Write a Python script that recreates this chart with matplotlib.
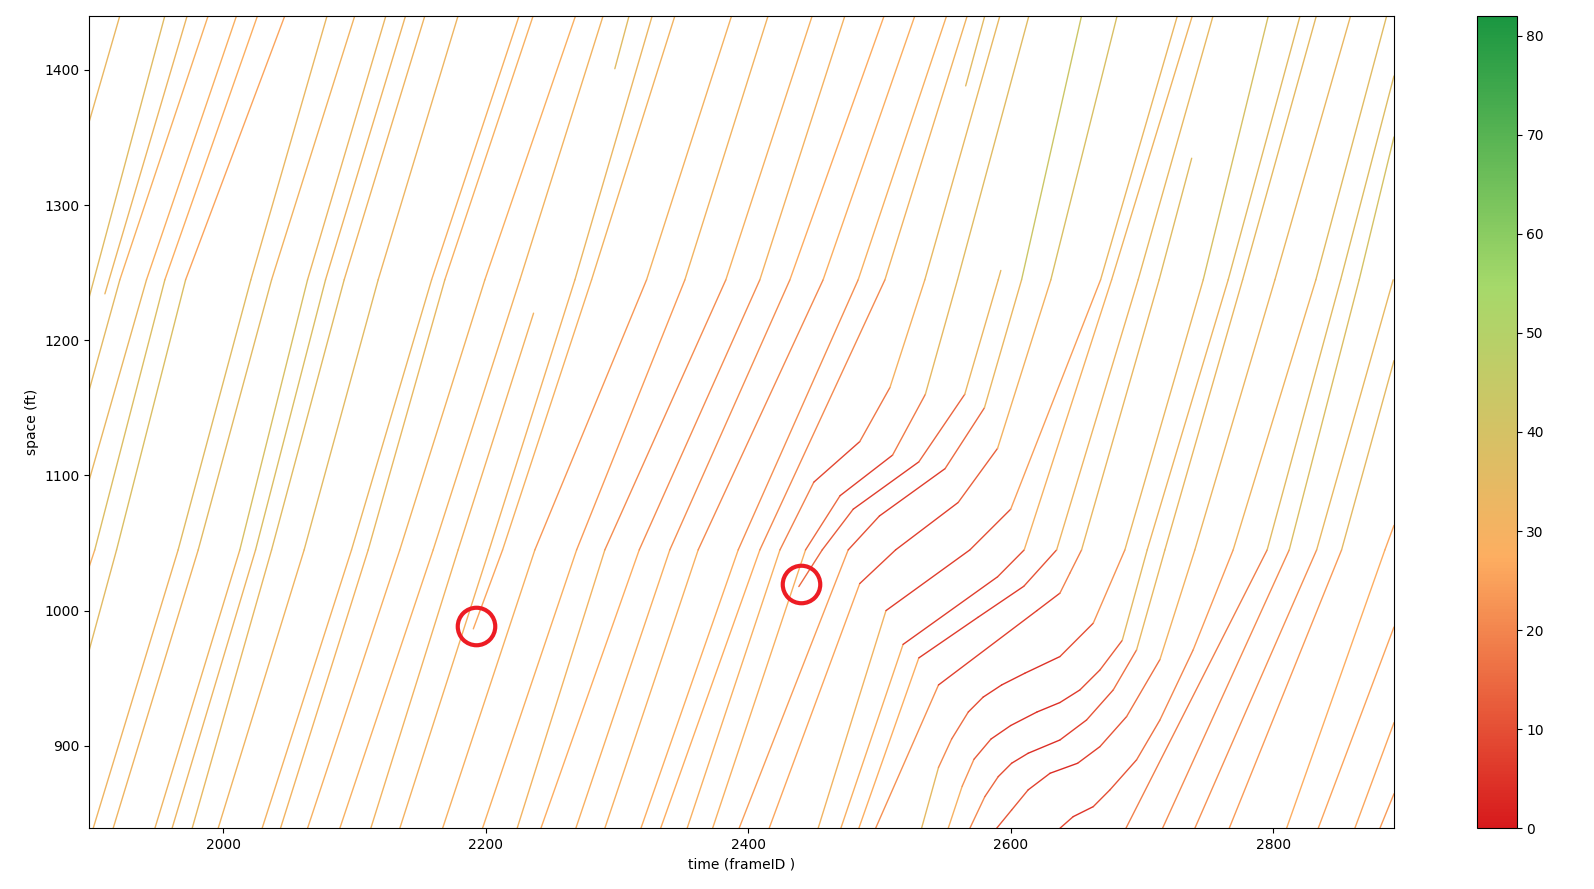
import numpy as np
import matplotlib
matplotlib.use("Agg")
import matplotlib.pyplot as plt
from matplotlib.collections import LineCollection
from matplotlib.colors import LinearSegmentedColormap, Normalize
from matplotlib.cm import ScalarMappable

FPS = 10  # frames per second -> speed in ft/s

# vehicle trajectories, (frameID, space ft) knots
# vehicles entering from the left edge
left_vehicles = [
    [(1898, 1361.8), (1921.3, 1440)],
    [(1898, 1232.0), (1955.6, 1440)],
    [(1909.9, 1234.3), (1972.6, 1440)],
    [(1898, 1163.3), (1921.3, 1244.7), (1988.6, 1440)],
    [(1898, 1096.7), (1941.6, 1244.7), (2010.2, 1440)],
    [(1898, 1032.6), (1902.2, 1044.9), (1955.6, 1244.7), (2026.2, 1440)],
    [(1898, 970.9), (1918.8, 1044.9), (1971.4, 1244.7), (2047.0, 1440)],
]

# rows used for the crossings below
s_rows = [839, 1044.9, 1244.7, 1440]

# free flow vehicles: time at each of s_rows
free_t = [
    [1901.0, 1965.7, 2021.1, 2079.2],
    [1916.2, 1981.0, 2036.9, 2100.3],
    [1948.0, 2012.7, 2064.3, 2124.0],
    [1961.1, 2024.7, 2078.0, 2139.0],
    [1976.4, 2036.9, 2092.2, 2153.7],
    [1996.2, 2061.7, 2118.1, 2179.0],
    [2029.7, 2097.8, 2158.8, 2225.5],
    [2043.7, 2110.5, 2168.9, 2236.2],
    [2064.3, 2134.6, 2199.4, 2268.5],
    [2088.9, 2160.0, 2226.1, 2289.5],
    [2134.6, 2202.7, 2268.0, 2326.9],
    [2167.2, 2237.5, 2322.6, 2387.4],
    [2197.6, 2269.3, 2351.8, 2415.2],
    [2224.0, 2290.8, 2383.0, 2448.8],
    [2242.1, 2317.0, 2408.9, 2473.7],
    [2268.7, 2340.3, 2431.8, 2503.6],
    [2290.8, 2361.9, 2457.1, 2527.0],
    [2318.3, 2392.4, 2483.8, 2551.2],
    [2333.3, 2408.9, 2504.2, 2566.9],
]

# vehicles that pass through the slow wave
wave_vehicles = [
    [(2353.5, 839), (2424.2, 1044.9), (2450, 1095), (2485, 1125), (2508, 1165),
     (2534.6, 1244.7), (2591.8, 1440)],
    [(2372.9, 839), (2443.7, 1044.9), (2470, 1085), (2510, 1115), (2535, 1160),
     (2559.5, 1244.7), (2613.9, 1440)],
    [(2393.1, 839), (2476.2, 1044.9), (2500, 1070), (2550, 1105), (2580, 1150),
     (2608.3, 1244.7), (2654.0, 1440)],
    [(2416.0, 839), (2485, 1020), (2512.3, 1044.9), (2560, 1080), (2590, 1120),
     (2630.6, 1244.7), (2681.1, 1440)],
    [(2453.3, 839), (2505, 1000), (2568.9, 1044.9), (2600, 1075), (2668.5, 1244.7),
     (2727.0, 1440)],
    [(2470.6, 839), (2518, 975), (2590, 1025), (2610.3, 1044.9), (2676.9, 1244.7),
     (2738.4, 1440)],
    [(2484.3, 839), (2530, 965), (2575, 995), (2610, 1018), (2635.0, 1044.9),
     (2697.1, 1244.7), (2754.2, 1440)],
    [(2532.1, 839), (2545, 884), (2555, 905), (2567.7, 925), (2579, 936), (2593.1, 945),
     (2610.8, 953.7), (2637.5, 966.0), (2662.9, 990.7), (2687.0, 1044.9),
     (2746.7, 1244.7), (2796.3, 1440)],
    [(2552.4, 839), (2563, 870), (2572, 890), (2585, 905), (2600, 915), (2620, 925),
     (2637.5, 932), (2652.7, 941.3), (2668, 956.1), (2685, 978), (2704.0, 1044.9),
     (2765.7, 1244.7), (2820.5, 1440)],
    [(2568.9, 839), (2580.3, 862.4), (2590.5, 877.2), (2600.7, 887.1), (2613.3, 894.5),
     (2637.5, 904.3), (2657.8, 919.1), (2678.1, 941.3), (2695.9, 970.9), (2717.5, 1044.9),
     (2776.7, 1244.7), (2832.9, 1440)],
    [(2589.3, 839), (2600.7, 852.5), (2613.3, 867.4), (2630, 879.7), (2651, 887.1),
     (2668, 899.4), (2688.3, 921.6), (2713.7, 963.8), (2740.3, 1044.9),
     (2801.3, 1244.7), (2859.0, 1440)],
    [(2637.5, 839), (2647.6, 847.6), (2662.9, 855.0), (2675.6, 867.4), (2695.9, 889.6),
     (2713.7, 919.1), (2739.0, 970.9), (2769.5, 1044.9), (2832.5, 1244.7), (2886.5, 1440)],
]

# vehicles leaving through the right edge
right_vehicles = [
    [(2687.8, 839), (2795.4, 1044.9), (2851.4, 1244.7), (2892, 1395.4)],
    [(2715.7, 839), (2812.2, 1044.9), (2865.5, 1244.7), (2892, 1350.3)],
    [(2740.3, 839), (2833.1, 1044.9), (2891.4, 1244.7)],
    [(2766.5, 839), (2852.1, 1044.9), (2892, 1184.9)],
    [(2810.2, 839), (2885.1, 1044.9), (2892, 1063.0)],
    [(2834.3, 839), (2892, 987.8)],
    [(2862.2, 839), (2892, 917.1)],
    [(2881.3, 839), (2892, 864.5)],
]

# vehicles that start or end inside the window (lane changes)
partial_vehicles = [
    [(2112.5, 839), (2179.0, 1044.9), (2236.5, 1220.0)],
    [(2190.6, 986.5), (2212.9, 1044.9), (2280.7, 1244.7), (2344.2, 1440)],
    [(2438.6, 1017.8), (2456.4, 1044.9), (2480, 1075), (2530, 1110), (2565, 1160),
     (2590.5, 1244.7), (2592.5, 1251.6)],
    [(2497.1, 839), (2545, 945), (2620, 1000), (2637.5, 1012.9), (2645.1, 1027.7),
     (2654.0, 1044.9), (2713.1, 1244.7), (2737.9, 1334.6)],
    [(2298.4, 1400.8), (2309.3, 1440)],
    [(2565.7, 1388.1), (2580.3, 1440)],
]

# highlighted lane-change points
marker_t = [2192.5, 2440.0]
marker_s = [988.7, 1019.5]

cmap = LinearSegmentedColormap.from_list(
    "speed", ["#d7191c", "#fdae61", "#a6d96a", "#1a9641"])
norm = Normalize(vmin=0, vmax=82)

fig = plt.figure(figsize=(15.94, 8.89), dpi=100)
ax = fig.add_axes([0.056, 0.0683, 0.8185, 0.914])
cax = fig.add_axes([0.9266, 0.0683, 0.0249, 0.914])

trajectories = left_vehicles + wave_vehicles + right_vehicles + partial_vehicles
for row in free_t:
    trajectories.append(list(zip(row, s_rows)))

for traj in trajectories:
    pts = np.array(traj, dtype=float)
    segs = np.stack([pts[:-1], pts[1:]], axis=1)
    speed = np.diff(pts[:, 1]) / np.diff(pts[:, 0]) * FPS
    lc = LineCollection(segs, cmap=cmap, norm=norm, linewidths=1.0,
                        capstyle='round', joinstyle='round')
    lc.set_array(speed)
    ax.add_collection(lc)

ax.plot(marker_t, marker_s, 'o', ms=27, mfc='none', mec='#ed1c24', mew=3)

ax.set_xlim(1898, 2892)
ax.set_ylim(839, 1440)
ax.set_xlabel('time (frameID )')
ax.set_ylabel('space (ft)')

fig.colorbar(ScalarMappable(norm=norm, cmap=cmap), cax=cax)

plt.savefig('out.png', dpi=100)
